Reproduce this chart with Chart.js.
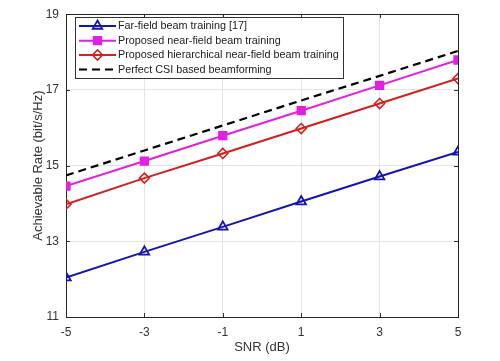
<!DOCTYPE html>
<html>
<head>
<meta charset="utf-8">
<script src="https://cdn.jsdelivr.net/npm/chart.js@4"></script>
<style>
html,body{margin:0;padding:0;background:#fff;}
#wrap{width:500px;height:361px;position:relative;}
</style>
</head>
<body>
<div id="wrap"><canvas id="c" width="500" height="361"></canvas></div>
<script>
const snr = [-5, -3, -1, 1, 3, 5];
const farField = [12.04, 12.72, 13.38, 14.05, 14.71, 15.36];
const nearField = [14.46, 15.12, 15.79, 16.45, 17.12, 17.79];
const hierarchical = [13.98, 14.67, 15.32, 15.98, 16.64, 17.30];
const perfectCSI = [14.74, 15.40, 16.06, 16.72, 17.37, 18.03];
const xTicks = [-5, -3, -1, 1, 3, 5];
const yTicks = [11, 13, 15, 17, 19];
const labels = ['Far-field beam training [17]', 'Proposed near-field beam training', 'Proposed hierarchical near-field beam training', 'Perfect CSI based beamforming'];

const pts = arr => snr.map((x, i) => ({x: x, y: arr[i]}));
const FONT = 'Liberation Sans, Arial, sans-serif';

const frame = {
  id: 'frame',
  beforeDatasetsDraw(chart) {
    const {ctx, chartArea: a, scales} = chart;
    ctx.save();
    ctx.strokeStyle = '#333';
    ctx.lineWidth = 1;
    xTicks.forEach(v => {
      const px = Math.round(scales.x.getPixelForValue(v)) + 0.5;
      ctx.beginPath();
      ctx.moveTo(px, a.bottom); ctx.lineTo(px, a.bottom - 4);
      ctx.moveTo(px, a.top); ctx.lineTo(px, a.top + 4);
      ctx.stroke();
    });
    yTicks.forEach(v => {
      const py = Math.round(scales.y.getPixelForValue(v)) + 0.5;
      ctx.beginPath();
      ctx.moveTo(a.left, py); ctx.lineTo(a.left + 4, py);
      ctx.moveTo(a.right, py); ctx.lineTo(a.right - 4, py);
      ctx.stroke();
    });
    ctx.strokeStyle = '#262626';
    ctx.strokeRect(Math.round(a.left) + 0.5, Math.round(a.top) + 0.5, Math.round(a.right - a.left), Math.round(a.bottom - a.top));
    ctx.restore();
  },
  afterDraw(chart) {
    const {ctx} = chart;
    const bx = 75.5, by = 17.5, bw = 268, bh = 61;
    ctx.save();
    ctx.fillStyle = '#fff';
    ctx.fillRect(bx, by, bw, bh);
    ctx.strokeStyle = '#333';
    ctx.lineWidth = 1;
    ctx.strokeRect(bx, by, bw, bh);
    const rows = [26, 40.7, 55, 69.5];
    chart.data.datasets.forEach((ds, i) => {
      const y = rows[i];
      ctx.save();
      ctx.strokeStyle = ds.borderColor;
      ctx.lineWidth = 2;
      ctx.setLineDash(ds.borderDash || []);
      ctx.beginPath();
      ctx.moveTo(79, y); ctx.lineTo(116, y);
      ctx.stroke();
      ctx.setLineDash([]);
      if (ds.pointStyle && ds.pointRadius > 0) {
        ctx.fillStyle = ds.pointBackgroundColor;
        ctx.strokeStyle = ds.pointBorderColor;
        ctx.lineWidth = ds.pointBorderWidth;
        Chart.helpers.drawPoint(ctx, {
          pointStyle: ds.pointStyle, radius: ds.pointRadius, borderWidth: ds.pointBorderWidth, rotation: 0
        }, 97.5, y);
      }
      ctx.restore();
      ctx.fillStyle = '#222';
      ctx.font = '10.8px ' + FONT;
      ctx.textBaseline = 'middle';
      ctx.textAlign = 'left';
      ctx.fillText(ds.label, 118, y + 0.5);
    });
    ctx.restore();
  }
};

new Chart(document.getElementById('c'), {
  type: 'line',
  data: {
    datasets: [
      {label: labels[0], data: pts(farField), borderColor: '#1515b5', borderWidth: 2,
       pointStyle: 'triangle', pointRadius: 5.5, pointBorderWidth: 1.8, pointBackgroundColor: 'rgba(255,255,255,0)', pointBorderColor: '#1515b5'},
      {label: labels[1], data: pts(nearField), borderColor: '#e21fe2', borderWidth: 2,
       pointStyle: 'rect', pointRadius: 5.5, pointBorderWidth: 1.5, pointBackgroundColor: '#e21fe2', pointBorderColor: '#e21fe2'},
      {label: labels[2], data: pts(hierarchical), borderColor: '#d41f1f', borderWidth: 2,
       pointStyle: 'rectRot', pointRadius: 5, pointBorderWidth: 1.6, pointBackgroundColor: 'rgba(255,255,255,0)', pointBorderColor: '#d41f1f'},
      {label: labels[3], data: pts(perfectCSI), borderColor: '#000', borderWidth: 2.2, borderDash: [8, 5],
       pointRadius: 0, pointStyle: false}
    ]
  },
  options: {
    responsive: false,
    animation: false,
    devicePixelRatio: 1,
    layout: {padding: {left: 0, right: 42, top: 9.5, bottom: 0}},
    plugins: {legend: {display: false}, tooltip: {enabled: false}},
    elements: {line: {tension: 0}},
    scales: {
      x: {
        type: 'linear', min: -5, max: 5,
        afterFit: s => { s.height = 44; },
        afterBuildTicks: s => { s.ticks = xTicks.map(v => ({value: v})); },
        grid: {color: '#e4e4e4', drawTicks: false},
        border: {display: false},
        ticks: {color: '#333', font: {family: FONT, size: 12}, padding: 8},
        title: {display: true, text: 'SNR (dB)', color: '#333', font: {family: FONT, size: 13}, padding: {top: 0, bottom: 6}}
      },
      y: {
        type: 'linear', min: 11, max: 19,
        afterFit: s => { s.width = 66; },
        afterBuildTicks: s => { s.ticks = yTicks.map(v => ({value: v})); },
        grid: {color: '#e4e4e4', drawTicks: false},
        border: {display: false},
        ticks: {color: '#333', font: {family: FONT, size: 12}, padding: 7},
        title: {display: true, text: 'Achievable Rate (bit/s/Hz)', color: '#333', font: {family: FONT, size: 13}, padding: {top: 31, bottom: 0}}
      }
    }
  },
  plugins: [frame]
});
</script>
</body>
</html>
